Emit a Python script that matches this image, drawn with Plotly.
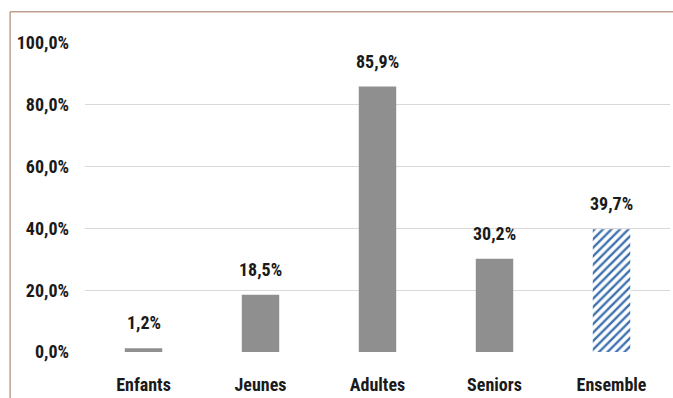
import plotly.graph_objects as go

# Share of each age group (percent)
categories = ["Enfants", "Jeunes", "Adultes", "Seniors", "Ensemble"]
values = [1.2, 18.5, 85.9, 30.2, 39.7]
tick_vals = [0, 20, 40, 60, 80, 100]
tick_text = ["0,0%", "20,0%", "40,0%", "60,0%", "80,0%", "100,0%"]

FONT = "Roboto Condensed, Liberation Sans Narrow, DejaVu Sans Condensed, sans-serif"
GRAY = "#8f8f8f"
BLUE = "#3f72b0"
TXT = dict(family=FONT, size=18, color="#1a1a1a", weight="bold")


def fmt(v):
    return f"{v:.1f}".replace(".", ",") + "%"


fig = go.Figure()

# Age groups in plain gray
fig.add_trace(go.Bar(
    x=categories[:-1], y=values[:-1],
    marker=dict(color=GRAY, line=dict(width=0)),
    width=0.32, opacity=1, hoverinfo="skip",
))
# Overall value hatched in blue
fig.add_trace(go.Bar(
    x=categories[-1:], y=values[-1:],
    marker=dict(color="white", line=dict(width=0),
                pattern=dict(shape="/", fillmode="replace", fgcolor=BLUE,
                             bgcolor="white", fgopacity=1,
                             size=6, solidity=0.4)),
    width=0.32, opacity=1, hoverinfo="skip",
))

# Value labels above bars
for c, v in zip(categories, values):
    fig.add_annotation(x=c, y=v, text=fmt(v), showarrow=False,
                       yanchor="bottom", yshift=13, font=TXT)

# Outer frame (left and top edges)
fig.add_shape(type="line", xref="paper", yref="paper",
              x0=-0.128, x1=-0.128, y0=1.101, y1=-0.3,
              line=dict(color="#bf9f90", width=1.5))
fig.add_shape(type="line", xref="paper", yref="paper",
              x0=-0.128, x1=1.2, y0=1.101, y1=1.101,
              line=dict(color="#bf9f90", width=1.5))

fig.update_layout(
    width=673, height=398,
    margin=dict(l=85, r=3, t=43, b=46),
    paper_bgcolor="white", plot_bgcolor="white",
    showlegend=False, barmode="overlay",
    font=TXT,
)
fig.update_xaxes(
    range=[-0.5, 4.5], showgrid=False, zeroline=False, showline=False,
    ticks="", ticklabelstandoff=20, tickfont=TXT,
)
fig.update_yaxes(
    range=[0, 100], tickvals=tick_vals, ticktext=tick_text,
    showgrid=True, gridcolor="#d9d9d9", gridwidth=1,
    zeroline=False, showline=False, ticks="", ticklabelstandoff=15,
    tickfont=TXT,
)

fig.write_html("out.html")
